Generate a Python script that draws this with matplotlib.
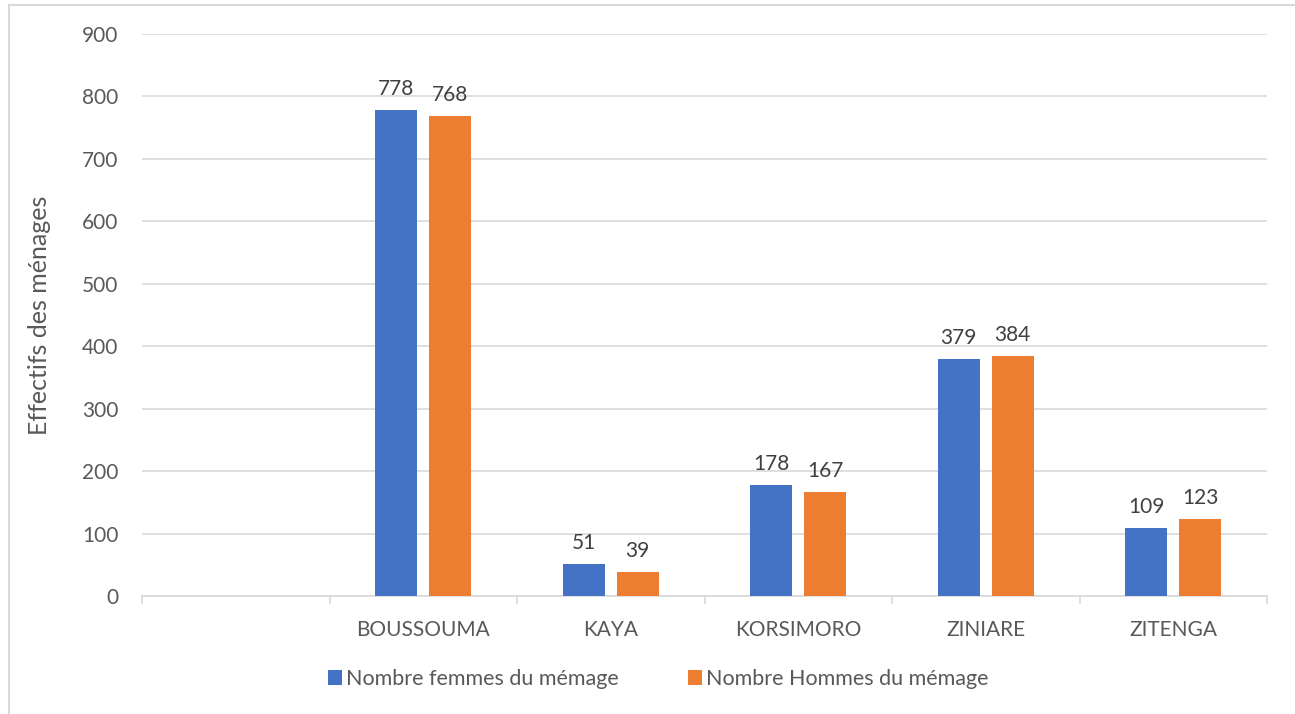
import matplotlib
matplotlib.use("Agg")
import matplotlib.pyplot as plt
from matplotlib.patches import Rectangle
import numpy as np

# data
categories = ["", "BOUSSOUMA", "KAYA", "KORSIMORO", "ZINIARE", "ZITENGA"]
femmes = [np.nan, 778, 51, 178, 379, 109]
hommes = [np.nan, 768, 39, 167, 384, 123]
series_names = ["Nombre femmes du mémage", "Nombre Hommes du mémage"]
yticks = [0, 100, 200, 300, 400, 500, 600, 700, 800, 900]

blue = "#4472c4"
orange = "#ed7d31"
grid_col = "#d9d9d9"
txt_col = "#595959"

plt.rcParams["font.family"] = ["Lato", "DejaVu Sans"]

fig = plt.figure(figsize=(12.95, 7.14), dpi=100)
ax = fig.add_axes([142 / 1295, 1 - 596 / 714, (1267 - 142) / 1295, (596 - 34) / 714])

x = np.arange(len(categories))
w = 0.224
off = 0.144
b1 = ax.bar(x - off, femmes, w, color=blue, label=series_names[0], zorder=3)
b2 = ax.bar(x + off, hommes, w, color=orange, label=series_names[1], zorder=3)

for bars, vals in ((b1, femmes), (b2, hommes)):
    for rect, v in zip(bars, vals):
        if np.isnan(v):
            continue
        ax.annotate("%d" % v, (rect.get_x() + rect.get_width() / 2, v),
                    xytext=(0, 8), textcoords="offset points",
                    ha="center", va="bottom", fontsize=15, color="#404040")

ax.set_xlim(-0.5, len(categories) - 0.5)
ax.set_ylim(0, 900)
ax.set_yticks(yticks)
ax.yaxis.grid(True, color=grid_col, linewidth=1.2, zorder=0)
ax.tick_params(axis="y", length=0, labelsize=15, labelcolor=txt_col, pad=17)

ax.set_xticks(x)
ax.set_xticklabels(categories)
ax.set_xticks(np.arange(len(categories) + 1) - 0.5, minor=True)
ax.tick_params(axis="x", which="major", length=0, labelsize=15, labelcolor=txt_col, pad=17)
ax.tick_params(axis="x", which="minor", length=6, color=grid_col, width=1.2)

for s in ("left", "right", "top"):
    ax.spines[s].set_visible(False)
ax.spines["bottom"].set_color(grid_col)
ax.spines["bottom"].set_linewidth(1.2)

ax.set_ylabel("Effectifs des ménages", fontsize=18, color=txt_col, labelpad=22)

ax.legend(loc="center", bbox_to_anchor=(658 / 1295, 1 - 679 / 714),
          bbox_transform=fig.transFigure, ncol=2, frameon=False,
          fontsize=15.5, labelcolor=txt_col, handlelength=0.65, handleheight=0.65,
          handletextpad=0.2, columnspacing=3.2)

# outer chart frame (only left and top edges visible in the crop)
fig.add_artist(Rectangle((9 / 1295, -0.1), 1.2, 1 - 5 / 714 + 0.1,
                         transform=fig.transFigure, fill=False,
                         edgecolor=grid_col, linewidth=1.5))

fig.savefig("out.png", dpi=100)
